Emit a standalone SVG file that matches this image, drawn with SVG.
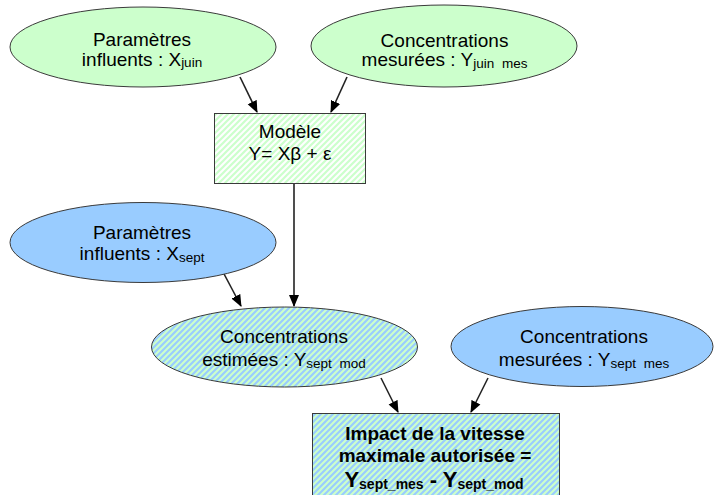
<svg xmlns="http://www.w3.org/2000/svg" width="714" height="495" viewBox="0 0 714 495">
<style>
text{font-family:"Liberation Sans",Arial,sans-serif;font-size:19px;fill:#000;text-anchor:middle}
.sub{font-size:13.5px}
.ws{word-spacing:4px}
.node{stroke:#3a3a3a;stroke-width:1}
.green{fill:#ccffcc}
.blue{fill:#99ccff}
.edge{stroke:#222;stroke-width:1.6;fill:none;marker-end:url(#arr)}
.b{font-weight:bold}
</style>
<defs>
<marker id="arr" viewBox="0 0 12 12" refX="11" refY="6" markerWidth="12" markerHeight="12" markerUnits="userSpaceOnUse" orient="auto">
<path d="M0,1 L12,6 L0,11 Z" fill="#000"/>
</marker>
<pattern id="hatchG" patternUnits="userSpaceOnUse" width="6" height="6">
<rect width="6" height="6" fill="#ffffff"/>
<path d="M-1.5,1.5 l3,-3 M0,6 l6,-6 M4.5,7.5 l3,-3" stroke="#ccffcc" stroke-width="2.2"/>
</pattern>
<pattern id="hatchBG" patternUnits="userSpaceOnUse" width="6" height="6">
<rect width="6" height="6" fill="#99ccff"/>
<path d="M-1.5,1.5 l3,-3 M0,6 l6,-6 M4.5,7.5 l3,-3" stroke="#ccffcc" stroke-width="2.2"/>
</pattern>
</defs>
<rect width="714" height="495" fill="#fff"/>
<g id="connectors">
<line class="edge" x1="240" y1="77" x2="257" y2="112"/>
<line class="edge" x1="347" y1="77" x2="331" y2="112"/>
<line class="edge" x1="294" y1="183" x2="294" y2="306"/>
<line class="edge" x1="223" y1="272" x2="241" y2="306"/>
<line class="edge" x1="381" y1="378" x2="398" y2="412"/>
<line class="edge" x1="488" y1="378" x2="471" y2="412"/>
</g>
<g id="n-params-juin">
<ellipse class="node green" cx="143" cy="47" rx="133" ry="40"/>
<text x="142" y="46">Paramètres</text>
<text x="142" y="65.5">influents : X<tspan class="sub" dy="1.5">juin</tspan></text>
</g>
<g id="n-conc-juin">
<ellipse class="node green" cx="444" cy="46" rx="133" ry="41"/>
<text x="444.5" y="46.5">Concentrations</text>
<text x="444.5" y="66">mesurées : Y<tspan class="sub ws" dy="1.5">juin mes</tspan></text>
</g>
<g id="n-modele">
<rect class="node" x="214.5" y="113.5" width="151" height="70" fill="url(#hatchG)"/>
<text x="290" y="138">Modèle</text>
<text x="290" y="160">Y= Xβ + ε</text>
</g>
<g id="n-params-sept">
<ellipse class="node blue" cx="143" cy="242.5" rx="133" ry="40"/>
<text x="142" y="238.5">Paramètres</text>
<text x="142" y="260">influents : X<tspan class="sub" dy="1.5">sept</tspan></text>
</g>
<g id="n-conc-estimees">
<ellipse class="node" cx="284.5" cy="347" rx="133" ry="40" fill="url(#hatchBG)"/>
<text x="284" y="343">Concentrations</text>
<text x="284" y="366">estimées : Y<tspan class="sub ws" dy="1.5">sept mod</tspan></text>
</g>
<g id="n-conc-sept">
<ellipse class="node blue" cx="582" cy="346.5" rx="131" ry="40"/>
<text x="584" y="343">Concentrations</text>
<text x="584" y="366">mesurées : Y<tspan class="sub ws" dy="1.5">sept mes</tspan></text>
</g>
<g id="n-impact">
<rect class="node" x="312.5" y="413.5" width="247" height="90" fill="url(#hatchBG)"/>
<text class="b" x="435" y="440">Impact de la vitesse</text>
<text class="b" x="435" y="462">maximale autorisée =</text>
<text class="b" x="434" y="487"><tspan font-size="22">Y</tspan><tspan font-size="14" dy="2">sept_mes</tspan><tspan font-size="22" dy="-2"> - Y</tspan><tspan font-size="14" dy="2">sept_mod</tspan></text>
</g>
</svg>
